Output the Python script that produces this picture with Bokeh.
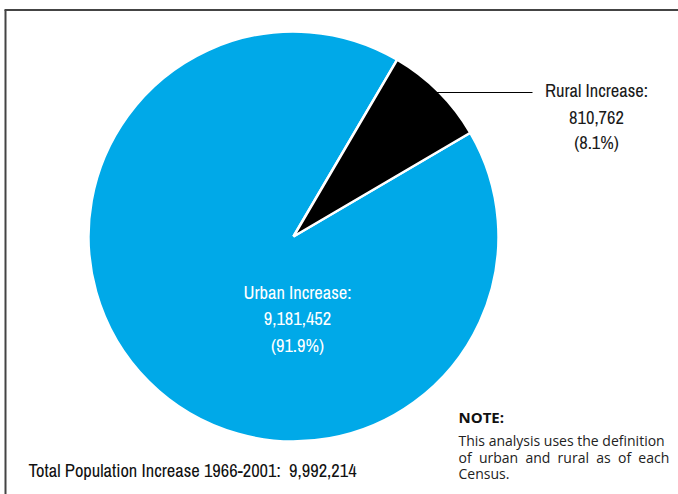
import numpy as np
from bokeh.plotting import figure
from bokeh.models import Range1d, ColumnDataSource
from bokeh.core.properties import value
from bokeh.embed import file_html
from bokeh.resources import INLINE

# ---- data ----
categories = ["Urban Increase", "Rural Increase"]
increases = [9181452, 810762]
colors = ["#00A9E8", "#000000"]
period = "1966-2001"
note_title = "NOTE:"
note_lines = ["This analysis uses the definition",
              "of\u00a0 urban\u00a0 and\u00a0 rural\u00a0 as\u00a0 of\u00a0 each",
              "Census."]

total = sum(increases)
fracs = [v / total for v in increases]

W, H = 678, 494


def py(y):
    # page y (down) -> data y (up)
    return H - y


p = figure(width=W, height=H, output_backend="svg", toolbar_location=None,
           x_range=Range1d(0, W), y_range=Range1d(0, H), min_border=0)
p.axis.visible = False
p.grid.visible = False
p.outline_line_color = None
p.background_fill_color = "white"

COND = value("Archivo Narrow")
HUM = value("Open Sans")

# frame (top + left edges)
p.segment(x0=[4, 5], y0=[py(9.5), py(9.5)], x1=[W, 5], y1=[py(9.5), py(H)],
          line_color="#444444", line_width=2)

# pie
cx, cy, r = 293, py(236), 205
rural_mid = np.pi / 4
rural_half = fracs[1] * np.pi
starts = [rural_mid + rural_half, rural_mid - rural_half]
ends = [rural_mid - rural_half + 2 * np.pi, rural_mid + rural_half]
src = ColumnDataSource(dict(start=starts, end=ends, color=colors))
p.wedge(x=cx, y=cy, radius=r, start_angle="start", end_angle="end",
        fill_color="color", line_color="white", line_width=2.5, source=src)

# leader line for rural
lx = cx + r * np.cos(rural_mid)
p.segment(x0=[lx - 2], y0=[py(92)], x1=[532], y1=[py(92)], line_color="black", line_width=1.2)

label_pos = [(297, [291.5, 318, 344.5], "white"), (596, [90, 116.5, 142], "#1a1a1a")]
for (c, v, f), (lxp, lys, col) in zip(zip(categories, increases, fracs), label_pos):
    lines = [f"{c}:", f"{v:,}", f"({f*100:.1f}%)"]
    p.text(x=[lxp] * 3, y=[py(y) for y in lys], text=lines, text_align="center",
           text_baseline="middle", text_font=COND, text_font_size="18.5px",
           text_color=col)

p.text(x=[28], y=[py(470)], text=[f"Total Population Increase {period}:\u00a0 {total:,}"],
       text_align="left", text_baseline="middle", text_font=COND,
       text_font_size="18.5px", text_color="#111111")

p.text(x=[458], y=[py(416)], text=[note_title], text_align="left",
       text_baseline="middle", text_font=HUM, text_font_size="15px",
       text_font_style="bold", text_color="#111111")
p.text(x=[458] * 3, y=[py(440), py(457), py(473)], text=note_lines,
       text_align="left", text_baseline="middle", text_font=HUM,
       text_font_size="14px", text_color="#222222")

open("out.html", "w").write(file_html(p, INLINE))
